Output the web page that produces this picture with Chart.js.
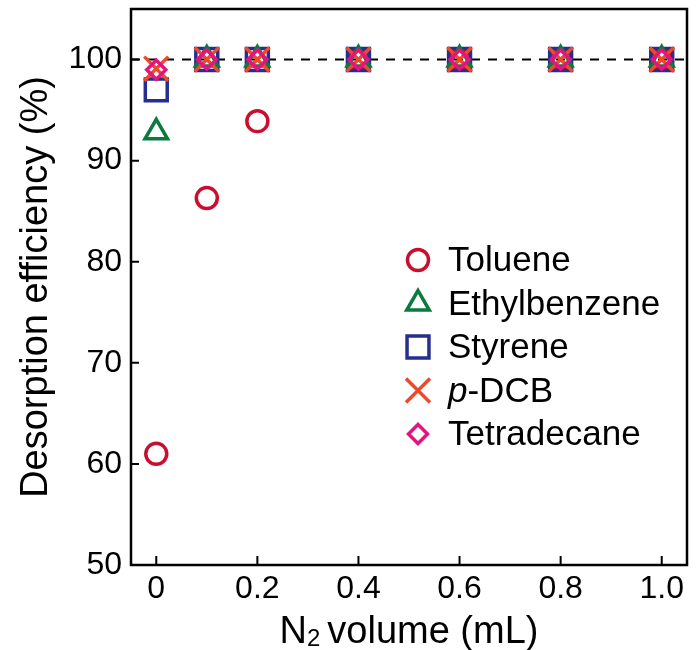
<!DOCTYPE html>
<html>
<head>
<meta charset="utf-8">
<script src="https://cdn.jsdelivr.net/npm/chart.js@4.4.0/dist/chart.umd.min.js"></script>
<style>
  html, body { margin: 0; padding: 0; background: #fff; }
  #wrap { width: 697px; height: 650px; position: relative; }
</style>
</head>
<body>
<div id="wrap"><canvas id="desorptionChart"></canvas></div>
<script>
const FONT = "'Liberation Sans', Arial, Helvetica, sans-serif";

// N2 volume (mL)
const volumes = [0, 0.1, 0.2, 0.4, 0.6, 0.8, 1.0];

// desorption efficiency (%)
const toluene      = [61.0, 86.3, 93.9, 100, 100, 100, 100];
const ethylbenzene = [92.8, 100, 100, 100, 100, 100, 100];
const styrene      = [97.0, 100, 100, 100, 100, 100, 100];
const pDCB         = [99.1, 100, 100, 100, 100, 100, 100];
const tetradecane  = [99.0, 100, 100, 100, 100, 100, 100];

// axis ticks
const xTicks = [0, 0.2, 0.4, 0.6, 0.8, 1.0];
const xTickLabels = ["0", "0.2", "0.4", "0.6", "0.8", "1.0"];
const yTicks = [50, 60, 70, 80, 90, 100];
const yTickLabels = ["50", "60", "70", "80", "90", "100"];

const pts = (vals) => volumes.map((v, i) => ({ x: v, y: vals[i] }));

function series(label, vals, color, style, radius, order, parts) {
    return {
        label: label,
        data: pts(vals),
        showLine: false,
        pointStyle: style,
        pointRadius: radius,
        pointHoverRadius: radius,
        pointBorderWidth: 3.5,
        pointHoverBorderWidth: 3.5,
        borderColor: color,
        pointBorderColor: color,
        pointBackgroundColor: "rgba(0,0,0,0)",
        order: order,
        legendParts: parts || [{ t: label }],
    };
}

// draws the dashed 100 % line, inward ticks, the frame, the legend and the x title
const framePlugin = {
    id: "frame",
    beforeDatasetsDraw(chart) {
        const { ctx, chartArea: a, scales: { x, y } } = chart;
        ctx.save();
        const y100 = y.getPixelForValue(100);
        ctx.strokeStyle = "#000";
        ctx.lineWidth = 2;
        ctx.setLineDash([9, 8]);
        ctx.beginPath();
        ctx.moveTo(a.left, y100);
        ctx.lineTo(a.right, y100);
        ctx.stroke();
        ctx.setLineDash([]);

        ctx.lineWidth = 2;
        ctx.beginPath();
        xTicks.forEach((v) => {
            const px = x.getPixelForValue(v);
            ctx.moveTo(px, a.bottom);
            ctx.lineTo(px, a.bottom - 9);
        });
        yTicks.forEach((v) => {
            const py = y.getPixelForValue(v);
            ctx.moveTo(a.left, py);
            ctx.lineTo(a.left + 8, py);
        });
        ctx.stroke();

        ctx.lineWidth = 2.5;
        ctx.strokeRect(a.left, a.top, a.right - a.left, a.bottom - a.top);
        ctx.restore();
    },
    afterDraw(chart) {
        const { ctx, chartArea: a } = chart;
        ctx.save();

        // legend inside the plot
        const markerX = a.left + 287;
        const textX = a.left + 317;
        chart.data.datasets.forEach((ds, i) => {
            const cy = a.top + 251 + i * 43.5;
            ctx.strokeStyle = ds.pointBorderColor;
            ctx.fillStyle = "rgba(0,0,0,0)";
            ctx.lineWidth = ds.pointBorderWidth;
            Chart.helpers.drawPoint(ctx, {
                pointStyle: ds.pointStyle,
                radius: ds.pointRadius,
                rotation: 0,
                borderWidth: ds.pointBorderWidth,
            }, markerX, cy);

            let tx = textX;
            ctx.fillStyle = "#000";
            ctx.textBaseline = "alphabetic";
            ctx.textAlign = "left";
            ds.legendParts.forEach((p) => {
                ctx.font = (p.italic ? "italic " : "") + "35px " + FONT;
                ctx.fillText(p.t, tx, cy + 11);
                tx += ctx.measureText(p.t).width;
            });
        });

        // x axis title with subscript
        const base = chart.height - 7;
        const big = "38px " + FONT;
        const small = "24px " + FONT;
        ctx.font = big;
        const wN = ctx.measureText("N").width;
        const wRest = ctx.measureText("volume (mL)").width;
        ctx.font = small;
        const w2 = ctx.measureText("2").width;
        const gap = 7;
        let sx = (a.left + a.right) / 2 - (wN + w2 + gap + wRest) / 2;
        ctx.fillStyle = "#000";
        ctx.textBaseline = "alphabetic";
        ctx.textAlign = "left";
        ctx.font = big;
        ctx.fillText("N", sx, base);
        sx += wN;
        ctx.font = small;
        ctx.fillText("2", sx, base + 3);
        sx += w2 + gap;
        ctx.font = big;
        ctx.fillText("volume (mL)", sx, base);
        ctx.restore();
    },
};

const ctx = document.getElementById("desorptionChart").getContext("2d");
const desorptionChart = new Chart(ctx, {
    type: "scatter",
    data: {
        datasets: [
            series("Toluene", toluene, "#c8102e", "circle", 10.5, 5),
            series("Ethylbenzene", ethylbenzene, "#0b7a3e", "triangle", 13, 3),
            series("Styrene", styrene, "#262f8f", "rect", 15.5, 4),
            series("p-DCB", pDCB, "#ec4a2a", "crossRot", 17, 2, [{ t: "p", italic: true }, { t: "-DCB" }]),
            series("Tetradecane", tetradecane, "#e3147f", "rectRot", 9.5, 1),
        ],
    },
    options: {
        responsive: true,
        maintainAspectRatio: false,
        animation: false,
        events: [],
        layout: {
            autoPadding: false,
            padding: { top: 9, right: 10, left: 0, bottom: 0 },
        },
        plugins: {
            legend: { display: false },
            tooltip: { enabled: false },
        },
        scales: {
            x: {
                type: "linear",
                min: -0.05,
                max: 1.05,
                afterBuildTicks: (scale) => {
                    scale.ticks = xTicks.map((v) => ({ value: v }));
                },
                afterFit: (scale) => {
                    scale.height = 85;
                    scale.paddingLeft = 0;
                    scale.paddingRight = 0;
                },
                grid: { display: false, drawTicks: false },
                border: { display: false },
                ticks: {
                    padding: 5,
                    maxRotation: 0,
                    autoSkip: false,
                    color: "#000",
                    font: { family: FONT, size: 32 },
                    callback: (v) => xTickLabels[xTicks.indexOf(v)] ?? "",
                },
                title: { display: false },
            },
            y: {
                type: "linear",
                min: 50,
                max: 105,
                afterBuildTicks: (scale) => {
                    scale.ticks = yTicks.map((v) => ({ value: v }));
                },
                afterFit: (scale) => {
                    scale.width = 131;
                    scale.paddingTop = 0;
                    scale.paddingBottom = 0;
                },
                grid: { display: false, drawTicks: false },
                border: { display: false },
                ticks: {
                    padding: 9,
                    autoSkip: false,
                    color: "#000",
                    font: { family: FONT, size: 32 },
                    callback: (v) => yTickLabels[yTicks.indexOf(v)] ?? "",
                },
                title: {
                    display: true,
                    text: "Desorption efficiency (%)",
                    color: "#000",
                    font: { family: FONT, size: 38 },
                    padding: { top: 14, bottom: 0 },
                },
            },
        },
    },
    plugins: [framePlugin],
});
</script>
</body>
</html>
